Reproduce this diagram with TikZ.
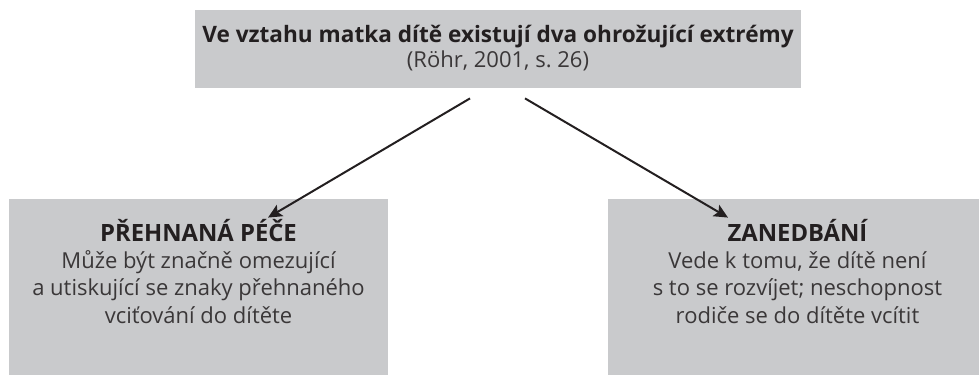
\documentclass[tikz,border=0pt]{standalone}
\usepackage{fontspec}
\setmainfont{Open Sans}
\usetikzlibrary{arrows.meta,calc}
\definecolor{boxgray}{HTML}{C9CACC}
\definecolor{ink}{HTML}{231F20}
\definecolor{softink}{HTML}{3A3738}
\newcommand{\headfont}{\fontsize{11.9pt}{13.6pt}\selectfont\bfseries\color{ink}}
\tikzset{
  graybox/.style={fill=boxgray, draw=none, inner sep=0pt},
  boxtext/.style={align=center, anchor=north, inner sep=0pt, text=softink,
    font=\fontsize{11pt}{13.7pt}\selectfont},
  pointer/.style={line width=1pt, draw=ink, -{Stealth[length=7pt,width=6.5pt,inset=1.5pt]}}
}
\begin{document}
\begin{tikzpicture}[x=0.5pt, y=-0.5pt]
      \useasboundingbox (0,0) rectangle (979,375);
      % top box
      \node[graybox, minimum width=303pt, minimum height=39pt] (extremes) at (498,49) {};
      \node[boxtext, anchor=center, font=\fontsize{11pt}{12.2pt}\selectfont] (extremestext) at ($(extremes.center)+(0,-1)$)
        {{\fontsize{11.3pt}{13pt}\selectfont\bfseries\color{ink} Ve vztahu matka dítě existují dva ohrožující extrémy}\\(Röhr, 2001, s.~26)};
      % bottom boxes
      \node[graybox, minimum width=189.5pt, minimum height=88pt] (care) at (198.5,287) {};
      \node[boxtext] (caretext) at ($(care.north)+(0,20)$)
        {{\headfont PŘEHNANÁ PÉČE}\\Může být značně omezující\\a utiskující se znaky přehnaného\\vciťování do dítěte};
      \node[graybox, minimum width=185.5pt, minimum height=88pt] (neglect) at (793.5,287) {};
      \node[boxtext] (neglecttext) at ($(neglect.north)+(4,20)$)
        {{\headfont ZANEDBÁNÍ}\\Vede k tomu, že dítě není\\s to se rozvíjet; neschopnost\\rodiče se do dítěte vcítit};
      % arrows
      \coordinate (careend) at ($(care.north)+(69.5,19)$);
      \coordinate (neglectend) at ($(neglect.north)+(-65.5,19)$);
      \draw[pointer] ($(extremes.south)+(-28,10)$) -- (careend);
      \draw[pointer] ($(extremes.south)+(27,10)$) -- (neglectend);
    \end{tikzpicture}
\end{document}
